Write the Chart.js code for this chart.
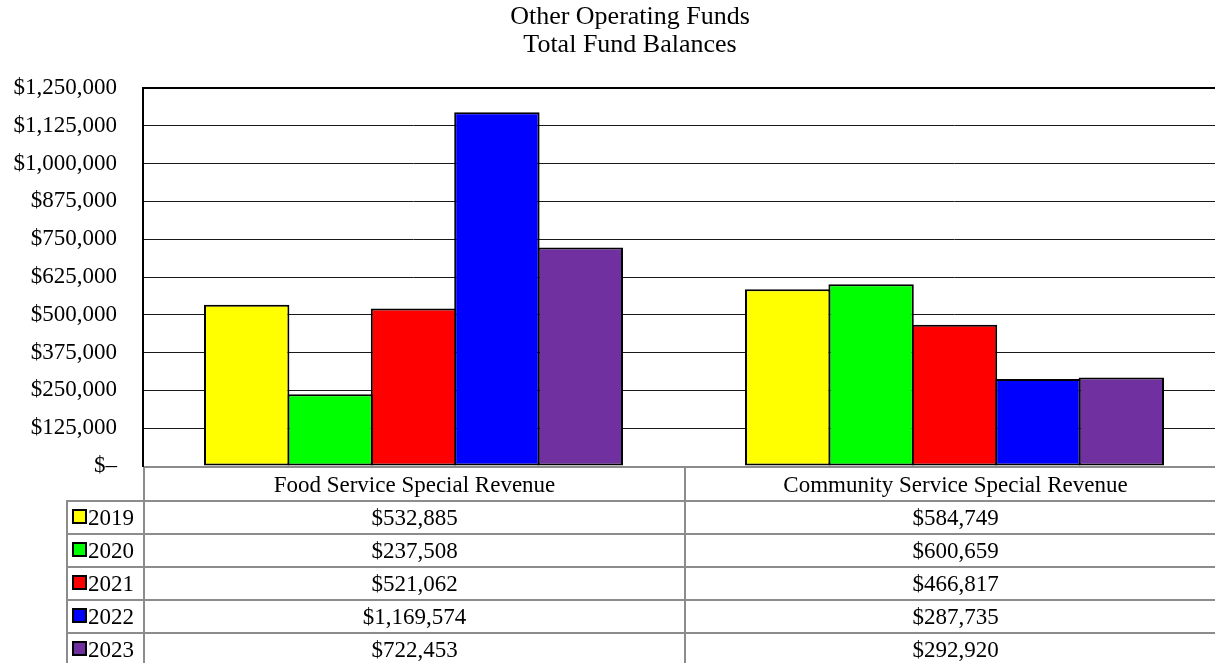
<!DOCTYPE html>
<html>
<head>
<meta charset="utf-8">
<script src="https://cdn.jsdelivr.net/npm/chart.js@4/dist/chart.umd.min.js"></script>
<style>
html, body { margin: 0; padding: 0; background: #fff; overflow: hidden; width: 1215px; height: 663px; }
#wrap { position: relative; width: 1260px; height: 663px; }
#c { position: absolute; left: 0; top: 0; }
#tbl { position: absolute; border-collapse: collapse; font-family: 'Liberation Serif', 'Times New Roman', serif; font-size: 23px; color: #000; table-layout: fixed; }
#tbl td { border: 2px solid #8c8c8c; padding: 0; text-align: center; vertical-align: middle; white-space: nowrap; overflow: hidden; line-height: 26px; }
#tbl td.blank { border-left: none; border-top: none; }
#tbl tr.head td { border-top: none; padding-top: 2px; }
#tbl td.leg { text-align: left; padding-left: 4px; }
.sw { display: inline-block; width: 11px; height: 11px; border: 2px solid #000; margin-right: 1px; vertical-align: 1px; }
</style>
</head>
<body>
<div id="wrap">
<canvas id="c" width="1260" height="663"></canvas>
</div>
<script>
const titleLines = ['Other Operating Funds', 'Total Fund Balances'];
const categories = ['Food Service Special Revenue', 'Community Service Special Revenue'];
const years = ['2019', '2020', '2021', '2022', '2023'];
const v2019 = [532885, 584749];
const v2020 = [237508, 600659];
const v2021 = [521062, 466817];
const v2022 = [1169574, 287735];
const v2023 = [722453, 292920];
const seriesValues = [v2019, v2020, v2021, v2022, v2023];
const seriesColors = ['#FFFF00', '#00FF00', '#FF0000', '#0000FF', '#7030A0'];
const yMin = 0, yMax = 1250000, yStep = 125000;

const FONT = "'Liberation Serif', 'Times New Roman', serif";
function money(v) { return v === 0 ? '$\u2013' : '$' + v.toLocaleString('en-US'); }

// Two-line title centred on the canvas
const pageTitle = {
  id: 'pageTitle',
  afterDraw(chart) {
    const ctx = chart.ctx;
    ctx.save();
    ctx.fillStyle = '#000';
    ctx.font = "26px " + FONT;
    ctx.textAlign = 'center';
    ctx.textBaseline = 'middle';
    titleLines.forEach((t, i) => ctx.fillText(t, chart.width / 2, 17 + i * 28));
    ctx.restore();
  }
};

const frame = {
  id: 'frame',
  afterDraw(chart) {
    const a = chart.chartArea, ctx = chart.ctx;
    ctx.save();
    ctx.strokeStyle = '#8c8c8c';
    ctx.lineWidth = 2;
    ctx.beginPath(); ctx.moveTo(a.left, a.bottom + 1); ctx.lineTo(a.right + 10, a.bottom + 1); ctx.stroke();
    ctx.strokeStyle = '#000';
    ctx.beginPath(); ctx.moveTo(a.left - 1, a.top); ctx.lineTo(a.right + 10, a.top); ctx.stroke();
    ctx.beginPath(); ctx.moveTo(a.left, a.top - 1); ctx.lineTo(a.left, a.bottom + 1); ctx.stroke();
    ctx.restore();
  }
};

Chart.defaults.font.family = FONT;
Chart.defaults.color = '#000';

const chart = new Chart(document.getElementById('c'), {
  type: 'bar',
  data: {
    labels: categories,
    datasets: years.map((y, i) => ({
      label: y,
      data: seriesValues[i],
      backgroundColor: seriesColors[i],
      borderColor: '#000',
      borderWidth: 2,
      borderSkipped: false,
      categoryPercentage: 0.7708,
      barPercentage: 1.024
    }))
  },
  options: {
    responsive: false,
    animation: false,
    devicePixelRatio: 1,
    layout: { padding: { left: 0, right: 35, top: 88, bottom: 197 } },
    plugins: {
      legend: { display: false },
      tooltip: { enabled: false },
      title: { display: false }
    },
    scales: {
      x: { display: false },
      y: {
        min: yMin, max: yMax,
        afterFit(s) { s.width = 143; },
        border: { display: false },
        grid: { color: '#1a1a1a', lineWidth: 1, drawTicks: false },
        ticks: {
          stepSize: yStep,
          padding: 26,
          font: { family: FONT, size: 23 },
          color: '#000',
          callback: (v) => money(v)
        }
      }
    }
  },
  plugins: [frame, pageTitle]
});

// Data table under the plot, aligned with the category scale
(function buildTable() {
  const a = chart.chartArea;
  const catW = (a.right - a.left) / categories.length;
  const legW = 77;
  const rowH = 33;
  const tbl = document.createElement('table');
  tbl.id = 'tbl';
  tbl.style.left = (a.left - legW) + 'px';
  tbl.style.top = (a.bottom + 1) + 'px';
  tbl.style.width = (legW + catW * categories.length) + 'px';
  const cg = document.createElement('colgroup');
  [legW].concat(categories.map(() => catW)).forEach(w => {
    const c = document.createElement('col'); c.style.width = w + 'px'; cg.appendChild(c);
  });
  tbl.appendChild(cg);
  const head = document.createElement('tr');
  head.className = 'head';
  head.style.height = (rowH + 1) + 'px';
  const b = document.createElement('td'); b.className = 'blank'; head.appendChild(b);
  categories.forEach(c => { const td = document.createElement('td'); td.textContent = c; head.appendChild(td); });
  tbl.appendChild(head);
  years.forEach((y, i) => {
    const tr = document.createElement('tr');
    tr.style.height = rowH + 'px';
    const l = document.createElement('td'); l.className = 'leg';
    const sw = document.createElement('span'); sw.className = 'sw'; sw.style.background = seriesColors[i];
    l.appendChild(sw); l.appendChild(document.createTextNode(y));
    tr.appendChild(l);
    seriesValues[i].forEach(v => { const td = document.createElement('td'); td.textContent = money(v); tr.appendChild(td); });
    tbl.appendChild(tr);
  });
  document.getElementById('wrap').appendChild(tbl);
})();
</script>
</body>
</html>
